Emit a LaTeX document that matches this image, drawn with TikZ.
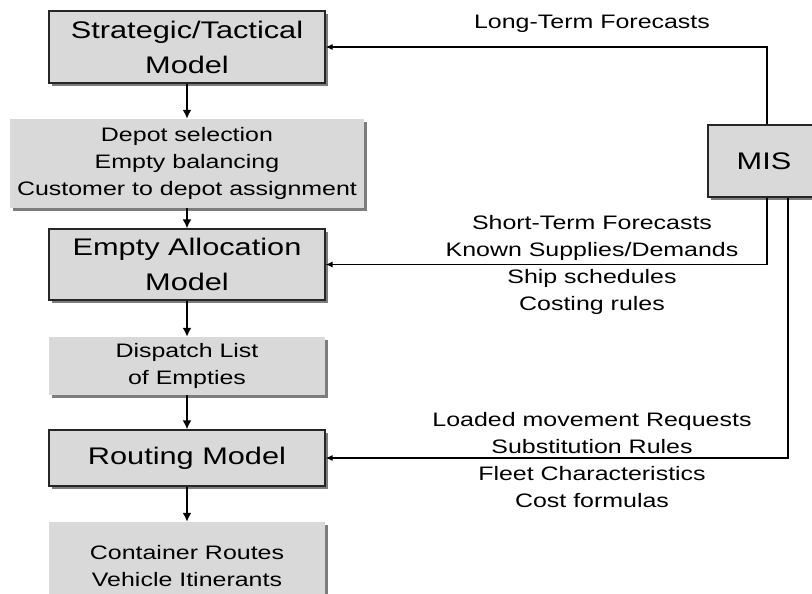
\documentclass[tikz,border=0pt]{standalone}
\usepackage{fontspec}
\setmainfont{Liberation Sans}[FakeStretch=1.28]
\usetikzlibrary{arrows.meta,shadows}

\definecolor{boxgray}{RGB}{217,217,217}
\definecolor{shadowgray}{RGB}{125,125,125}
\newcommand{\boxfont}{\fontsize{24}{35}\selectfont}
\newcommand{\notefont}{\fontsize{19.5}{27}\selectfont}

\tikzset{
  boxshadow/.style={drop shadow={shadow xshift=3pt, shadow yshift=-3pt, fill=shadowgray, opacity=1}},
  model/.style={draw=black!85, line width=1.2pt, fill=boxgray, inner sep=0pt,
    minimum width=276pt, align=center, font=\boxfont, boxshadow},
  output/.style={fill=boxgray, inner sep=0pt, minimum width=276pt,
    align=center, font=\notefont, boxshadow},
  note/.style={anchor=north, inner sep=0pt, align=center, font=\notefont},
  down/.style={line width=2.6pt, -{Latex[length=9pt,width=9pt]}},
  feed/.style={line width=1.2pt, -{Latex[length=7pt,width=6pt]}}
}

\begin{document}
\begin{tikzpicture}[x=1pt, y=-1pt]
	\useasboundingbox (0,0) rectangle (812,594);
	\clip (0,0) rectangle (812,594);

	% model chain on the left
	\node[model, minimum height=72pt] (strat) at (187,47) {Strategic/Tactical\\Model};
	\node[output, minimum width=354pt, minimum height=89pt] (sel) at (187,163.5)
		{Depot selection\\Empty balancing\\Customer to depot assignment};
	\node[model, minimum height=71pt] (alloc) at (187,264.5) {Empty Allocation\\Model};
	\node[output, minimum height=58pt] (disp) at (187,366) {Dispatch List\\of Empties};
	\node[model, minimum height=56pt] (route) at (187,458) {Routing Model};
	\node[output, minimum height=88pt] (out) at (187,566) {Container Routes\\Vehicle Itinerants};

	\draw[down] (strat) -- (sel);
	\draw[down] (sel) -- (alloc);
	\draw[down] (alloc) -- (disp);
	\draw[down] (disp) -- (route);
	\draw[down] (route) -- (out);

	% information system and its feeds
	\node[model, minimum width=112pt, minimum height=72pt] (mis) at (764,161) {MIS};

	\draw[feed] ([xshift=3pt]mis.north) |- (strat.east);
	\draw[feed] ([xshift=3pt]mis.south) |- (alloc.east);
	\draw[feed, line width=2.2pt] ([xshift=24pt]mis.south) |- (route.east);

	\node[note] (ltf) at (592,15) {Long-Term Forecasts};
	\node[note] (stf) at (592,215)
		{Short-Term Forecasts\\Known Supplies/Demands\\Ship schedules\\Costing rules};
	\node[note] (ldr) at (592,412)
		{Loaded movement Requests\\Substitution Rules\\Fleet Characteristics\\Cost formulas};
\end{tikzpicture}
\end{document}
